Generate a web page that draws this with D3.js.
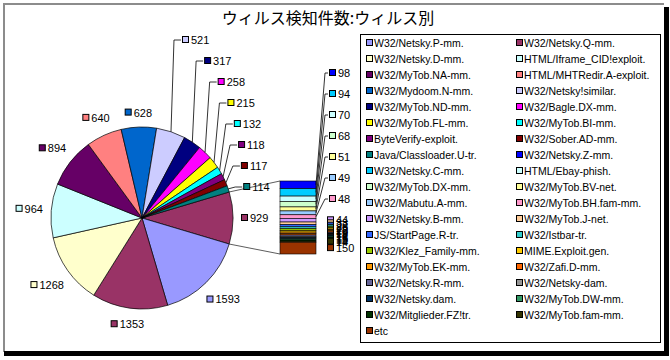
<!DOCTYPE html>
<html>
<head>
<meta charset="utf-8">
<script src="https://cdn.jsdelivr.net/npm/d3@7"></script>
<style>
body{margin:0;background:#fff}
svg{display:block}
text{font-family:"Liberation Sans",Arial,sans-serif}
</style>
</head>
<body>
<svg id="chart" width="670" height="360"></svg>
<script>
// ***************** DATA ********************
var title = "ウィルス検知件数:ウィルス別";
var names = [
	"W32/Netsky.P-mm.","W32/Netsky.Q-mm.","W32/Netsky.D-mm.","HTML/Iframe_CID!exploit.",
	"W32/MyTob.NA-mm.","HTML/MHTRedir.A-exploit.","W32/Mydoom.N-mm.","W32/Netsky!similar.",
	"W32/MyTob.ND-mm.","W32/Bagle.DX-mm.","W32/MyTob.FL-mm.","W32/MyTob.BI-mm.",
	"ByteVerify-exploit.","W32/Sober.AD-mm.","Java/Classloader.U-tr.","W32/Netsky.Z-mm.",
	"W32/Netsky.C-mm.","HTML/Ebay-phish.","W32/MyTob.DX-mm.","W32/MyTob.BV-net.",
	"W32/Mabutu.A-mm.","W32/MyTob.BH.fam-mm.","W32/Netsky.B-mm.","W32/MyTob.J-net.",
	"JS/StartPage.R-tr.","W32/Istbar-tr.","W32/Klez_Family-mm.","MIME.Exploit.gen.",
	"W32/MyTob.EK-mm.","W32/Zafi.D-mm.","W32/Netsky.R-mm.","W32/Netsky-dam.",
	"W32/Netsky.dam.","W32/MyTob.DW-mm.","W32/Mitglieder.FZ!tr.","W32/MyTob.fam-mm.",
	"etc"
];
var values = [
	1593,1353,1268,964,894,640,628,521,317,258,215,132,118,117,114,
	98,94,70,68,51,49,48,44,33,28,25,22,20,19,18,17,16,15,15,15,14,
	150
];
var colors = [
	"#9999FF","#993366","#FFFFCC","#CCFFFF","#660066","#FF8080","#0066CC","#CCCCFF",
	"#000080","#FF00FF","#FFFF00","#00FFFF","#800080","#800000","#008080","#0000FF",
	"#00CCFF","#CCFFFF","#CCFFCC","#FFFF99","#99CCFF","#FF99CC","#CC99FF","#FFCC99",
	"#3366FF","#33CCCC","#99CC00","#FFCC00","#FF9900","#FF6600","#666699","#969696",
	"#003366","#339966","#003300","#333300","#993300"
];
var pieCount = 15;      // first items in the pie, the rest go to the bar
var otherColor = "#993366";

// ***************** LAYOUT ********************
var svg = d3.select("#chart");
var cx = 142, cy = 218, radius = 91;
var bar = {x:280, y:181, w:36, h:73};
var legendBox = {x:360, y:34, w:300, h:308};

// frame
svg.append("rect").attr("x",0).attr("y",0).attr("width",670).attr("height",360).attr("fill","#fff");
svg.append("path").attr("d","M4,352 V4 H664").attr("fill","none").attr("stroke","#8c8c8c").attr("stroke-width",2);
svg.append("rect").attr("x",664).attr("y",7).attr("width",5).attr("height",349).attr("fill","#000");
svg.append("rect").attr("x",4).attr("y",351).attr("width",665).attr("height",5).attr("fill","#000");

svg.append("text")
	.attr("x",328).attr("y",18)
	.attr("text-anchor","middle").attr("dy","0.35em")
	.style("font-family","'Noto Sans CJK JP',sans-serif")
	.style("font-size","16px")
	.text(title);

// ***************** PIE ********************
var items = values.map(function(v,i){ return {name:names[i], value:v, color:colors[i], idx:i}; });
var pieItems = items.slice(0,pieCount);
var barItems = items.slice(pieCount);
var otherTotal = d3.sum(barItems,function(d){return d.value});
var total = d3.sum(values);
var otherSpan = otherTotal/total*2*Math.PI;
var start = Math.PI/2 - otherSpan/2;

var pie = d3.pie().sort(null).value(function(d){return d.value})
	.startAngle(start).endAngle(start+2*Math.PI);
var arcs = pie([{name:"other", value:otherTotal, color:otherColor, idx:-1}].concat(pieItems));
var arc = d3.arc().innerRadius(0).outerRadius(radius);

var pieG = svg.append("g").attr("transform","translate("+cx+","+cy+")");
pieG.selectAll("path.slice")
	.data(arcs)
	.enter()
	.append("path")
	.classed("slice",true)
	.attr("d",arc)
	.attr("fill",function(d){return d.data.color})
	.attr("stroke","#000").attr("stroke-width",0.7);

// ***************** BAR ********************
var yBar = d3.scaleLinear().domain([0,otherTotal]).range([bar.y,bar.y+bar.h]);
var cum = 0;
barItems.forEach(function(d){ d.y0 = cum; cum += d.value; d.y1 = cum; });
svg.selectAll("rect.seg")
	.data(barItems)
	.enter()
	.append("rect")
	.classed("seg",true)
	.attr("x",bar.x).attr("width",bar.w)
	.attr("y",function(d){return yBar(d.y0)})
	.attr("height",function(d){return yBar(d.y1)-yBar(d.y0)})
	.attr("fill",function(d){return d.color})
	.attr("stroke","#000").attr("stroke-width",0.6);

// connector lines pie -> bar
var edge = function(a){ return [cx+radius*Math.sin(a), cy-radius*Math.cos(a)]; };
var pTop = edge(start), pBot = edge(start+otherSpan);
svg.append("path")
	.attr("d","M"+pTop+" L"+bar.x+","+bar.y+" M"+pBot+" L"+bar.x+","+(bar.y+bar.h))
	.attr("fill","none").attr("stroke","#333").attr("stroke-width",0.8);

// ***************** LABELS ********************
var drawLabel = function(x,y,txt,color){
	var g = svg.append("g");
	g.append("rect").attr("x",x+0.5).attr("y",y-3.5).attr("width",6).attr("height",6)
		.attr("fill",color).attr("stroke","#000").attr("stroke-width",1);
	g.append("text").attr("x",x+9).attr("y",y).attr("dy","0.36em")
		.style("font-size","11px").text(txt);
	return g;
};
var leader = function(x,y,stub,target){
	svg.append("path")
		.attr("d","M"+(x-1)+","+y+" H"+(x-stub)+" L"+target)
		.attr("fill","none").attr("stroke","#000").attr("stroke-width",0.8);
};

// default labels outside the pie
var measure = svg.append("text").style("font-size","11px");
arcs.forEach(function(d){
	var i = d.data.idx;
	if (i >= 7) return;
	var a = (d.startAngle+d.endAngle)/2;
	var txt = d.value;
	measure.text(txt);
	var w = 9 + measure.node().getComputedTextLength(), h = 12;
	var dist = radius + 8 + 0.5*(Math.abs(Math.sin(a))*w + Math.abs(Math.cos(a))*h);
	var lx = cx + dist*Math.sin(a) - w/2, ly = cy - dist*Math.cos(a);
	drawLabel(lx,ly,txt,d.data.color);
});
measure.remove();

// small slices: labels pulled up into a stack with leader lines
arcs.filter(function(d){return d.data.idx >= 7}).forEach(function(d,k){
	var a = (d.startAngle+d.endAngle)/2;
	var t = edge(a);
	var lx = t[0] + 11 + Math.min(k,5)*0.8, ly = 40 + k*21;
	leader(lx,ly,8,t);
	drawLabel(lx,ly,d.value,d.data.color);
});

// bar labels: the first seven pulled up, the rest left beside their segment
barItems.forEach(function(d,k){
	var segY = (yBar(d.y0)+yBar(d.y1))/2;
	if (k < 7){
		var lx = bar.x+bar.w+13, ly = 73 + k*21;
		leader(lx,ly,4,[bar.x+bar.w,segY]);
		drawLabel(lx,ly,d.value,d.color);
	} else {
		drawLabel(bar.x+bar.w+11,segY,d.value,d.color);
	}
});

// ***************** LEGEND ********************
svg.append("rect")
	.attr("x",legendBox.x+0.5).attr("y",legendBox.y+0.5)
	.attr("width",legendBox.w).attr("height",legendBox.h)
	.attr("fill","#fff").attr("stroke","#000").attr("stroke-width",1);
var leg = svg.selectAll("g.leg")
	.data(items)
	.enter()
	.append("g")
	.classed("leg",true)
	.attr("transform",function(d,i){
		return "translate("+(i%2 ? 516 : 366)+","+(43+Math.floor(i/2)*16)+")";
	});
leg.append("rect").attr("x",0.5).attr("y",-3.5).attr("width",6).attr("height",6)
	.attr("fill",function(d){return d.color}).attr("stroke","#000").attr("stroke-width",1);
leg.append("text").attr("x",8).attr("dy","0.36em")
	.style("font-size","10.5px")
	.text(function(d){return d.name});
</script>
</body>
</html>
